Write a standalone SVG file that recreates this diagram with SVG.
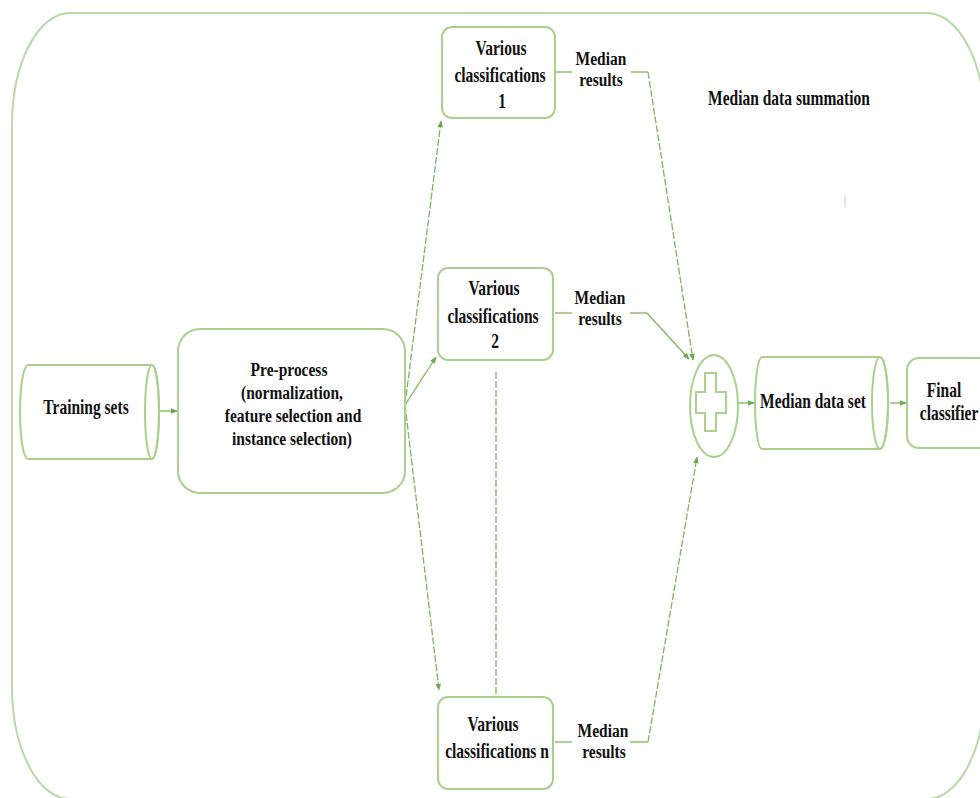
<svg xmlns="http://www.w3.org/2000/svg" width="980" height="798" viewBox="0 0 980 798">
<style>
.frame{fill:none;stroke:#b9d9a9;stroke-width:2}
.box{fill:#fff;stroke:#a9d18e;stroke-width:2}
.stub{fill:none;stroke:#a9d18e;stroke-width:2}
.con{fill:none;stroke:#7cb65c;stroke-width:1.3;stroke-dasharray:7 2}
.arr{fill:none;stroke:#7cb65c;stroke-width:1.3}
.t{font-family:"Liberation Serif","Times New Roman",serif;font-weight:bold;font-size:15.5px;text-anchor:middle;fill:#111}
</style>
<defs>
<marker id="ah" viewBox="0 0 10 10" refX="9" refY="5" markerWidth="7" markerHeight="7" orient="auto" markerUnits="userSpaceOnUse">
<path d="M0,1 L10,5 L0,9 Z" fill="#6aa84f"/>
</marker>
</defs>
<rect width="980" height="798" fill="#fff"/>
<rect class="frame" x="12" y="13" width="973" height="786" rx="58" ry="112"/>
<line x1="845" y1="195" x2="845" y2="207" stroke="#a8dbe8" stroke-width="1"/>
<text class="t" transform="translate(789,105) scale(1,1.3)">Median data summation</text>

<g id="connectors">
<line class="arr" x1="160" y1="411" x2="177" y2="411" marker-end="url(#ah)"/>
<line class="con" x1="405" y1="405" x2="441" y2="121" marker-end="url(#ah)"/>
<line class="arr" x1="405" y1="405" x2="436" y2="357" marker-end="url(#ah)"/>
<line class="con" x1="405" y1="405" x2="439" y2="690" marker-end="url(#ah)"/>
<line class="con" x1="496" y1="372" x2="496" y2="697"/>
<line class="stub" x1="555" y1="72" x2="572" y2="72"/>
<polyline class="stub" points="631,72 648,72"/>
<line class="con" x1="648" y1="72" x2="693" y2="360" marker-end="url(#ah)"/>
<line class="stub" x1="555" y1="313" x2="572" y2="313"/>
<polyline class="stub" points="630,313 647,313"/>
<line class="arr" x1="647" y1="313" x2="689" y2="359" marker-end="url(#ah)"/>
<line class="stub" x1="555" y1="742" x2="572" y2="742"/>
<polyline class="stub" points="630,742 648,742"/>
<line class="con" x1="648" y1="742" x2="697" y2="457" marker-end="url(#ah)"/>
<line class="arr" x1="738" y1="403" x2="754" y2="403" marker-end="url(#ah)"/>
<line class="arr" x1="890" y1="403" x2="906" y2="403" marker-end="url(#ah)"/>
</g>

<g id="training-sets">
<path class="box" d="M28,365 H152 A7,47 0 0 1 152,459 H28 A8,47 0 0 1 28,365 Z"/>
<ellipse cx="152" cy="412" rx="7" ry="47" fill="none" stroke="#a9d18e" stroke-width="2"/>
<text class="t" transform="translate(86,414) scale(1,1.3)">Training sets</text>
</g>

<g id="pre-process">
<rect class="box" x="178" y="329" width="227" height="164" rx="22"/>
<text class="t" transform="translate(289,376) scale(1,1.25)">Pre-process</text>
<text class="t" transform="translate(292,399) scale(1,1.25)">(normalization,</text>
<text class="t" transform="translate(293,422) scale(1,1.25)">feature selection and</text>
<text class="t" transform="translate(292,445) scale(1,1.25)">instance selection)</text>
</g>

<g id="various-1">
<rect class="box" x="442" y="27" width="113" height="91" rx="10"/>
<text class="t" transform="translate(501,55) scale(1,1.3)">Various</text>
<text class="t" transform="translate(500,82) scale(1,1.3)">classifications</text>
<text class="t" transform="translate(502,108) scale(1,1.3)">1</text>
</g>

<g id="various-2">
<rect class="box" x="438" y="268" width="115" height="92" rx="10"/>
<text class="t" transform="translate(494,295) scale(1,1.3)">Various</text>
<text class="t" transform="translate(493,323) scale(1,1.3)">classifications</text>
<text class="t" transform="translate(495,348) scale(1,1.3)">2</text>
</g>

<g id="various-n">
<rect class="box" x="438" y="697" width="115" height="92" rx="10"/>
<text class="t" transform="translate(493,731) scale(1,1.3)">Various</text>
<text class="t" transform="translate(497,758) scale(1,1.3)">classifications n</text>
</g>

<g id="median-results-1">
<text class="t" transform="translate(601,65) scale(1,1.2)">Median</text>
<text class="t" transform="translate(601,86) scale(1,1.2)">results</text>
</g>
<g id="median-results-2">
<text class="t" transform="translate(600,304) scale(1,1.2)">Median</text>
<text class="t" transform="translate(600,325) scale(1,1.2)">results</text>
</g>
<g id="median-results-n">
<text class="t" transform="translate(603,737) scale(1,1.2)">Median</text>
<text class="t" transform="translate(604,758) scale(1,1.2)">results</text>
</g>

<g id="summation">
<ellipse class="box" cx="714" cy="406" rx="24" ry="51"/>
<path d="M705,373 H716 V392 H726 V413 H716 V431 H705 V413 H696 V392 H705 Z" fill="none" stroke="#a9d18e" stroke-width="2"/>
</g>

<g id="median-data-set">
<path class="box" d="M762,357 H880 A8,46 0 0 1 880,449 H762 A7,46 0 0 1 762,357 Z"/>
<ellipse cx="880" cy="403" rx="8" ry="46" fill="none" stroke="#a9d18e" stroke-width="2"/>
<text class="t" transform="translate(813,408) scale(1,1.3)">Median data set</text>
</g>

<g id="final-classifier">
<rect class="box" x="907" y="358" width="90" height="90" rx="12"/>
<text class="t" transform="translate(944,397) scale(1,1.3)">Final</text>
<text class="t" transform="translate(949,420) scale(1,1.3)">classifier</text>
</g>
</svg>
